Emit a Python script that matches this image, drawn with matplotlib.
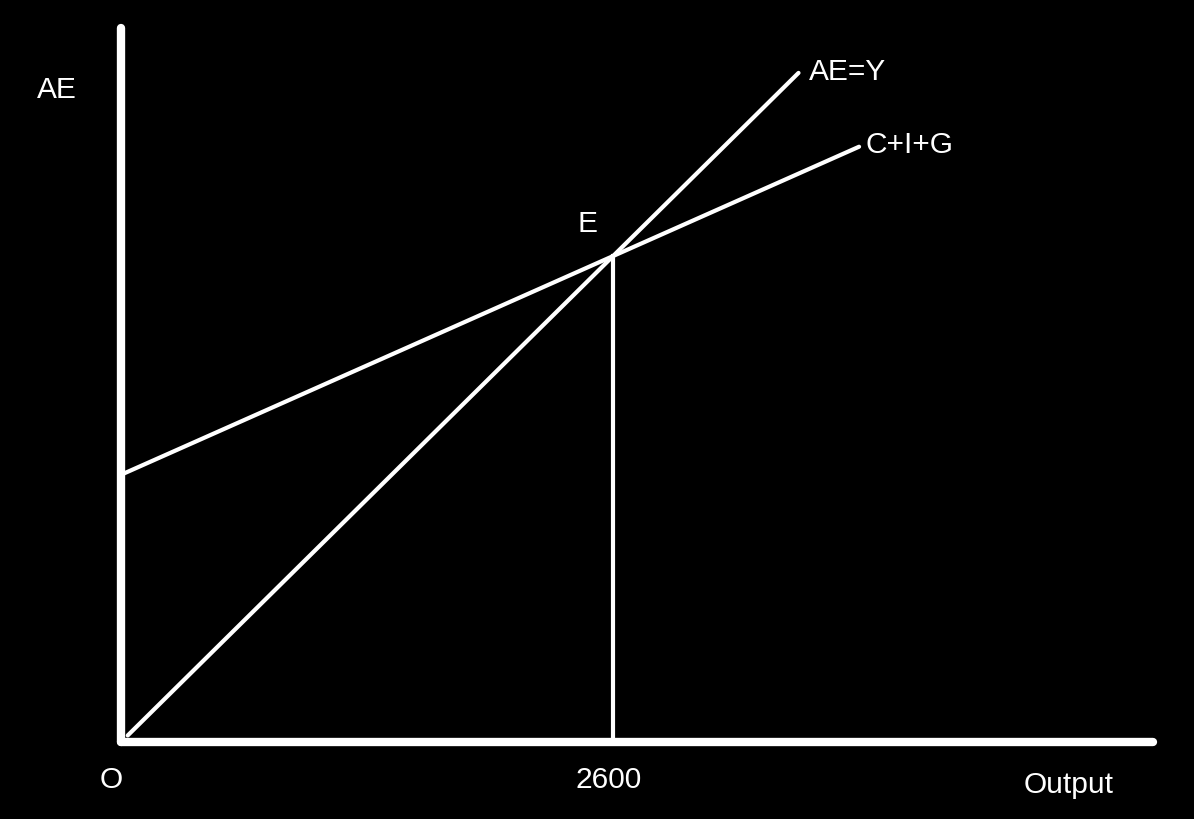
import matplotlib
matplotlib.use("Agg")
import matplotlib.pyplot as plt
import numpy as np

plt.rcParams['font.family'] = ['Liberation Sans', 'DejaVu Sans']

# Data
equilibrium_output = 2600
autonomous_spending = 1430
mpe = 0.45
aey_x = [35, 3580]
cig_x = [0, 3900]
axis_x_max = 5454
axis_y_max = 3820

fig = plt.figure(figsize=(11.94, 8.19), dpi=100, facecolor='black')
ax = fig.add_axes([0, 0, 1, 1])
ax.set_facecolor('black')
ax.set_xlim(-640, 5670)
ax.set_ylim(-412, 3970)
ax.axis('off')

lw_axis = 6
lw_line = 3.0

# axes
ax.plot([0, 0], [0, axis_y_max], color='white', lw=lw_axis, solid_capstyle='round')
ax.plot([0, axis_x_max], [0, 0], color='white', lw=lw_axis, solid_capstyle='round')

# AE = Y
ax.plot(aey_x, aey_x, color='white', lw=lw_line, solid_capstyle='round')
# C+I+G
cig_y = [autonomous_spending + mpe * x for x in cig_x]
ax.plot(cig_x, cig_y, color='white', lw=lw_line, solid_capstyle='round')
# vertical at equilibrium
ax.plot([equilibrium_output, equilibrium_output], [0, equilibrium_output],
        color='white', lw=lw_line)

fs = 21.5
ax.text(-338, 3488, 'AE', color='white', fontsize=fs, ha='center', va='center')
ax.text(3636, 3584, 'AE=Y', color='white', fontsize=fs, ha='left', va='center')
ax.text(3932, 3194, 'C+I+G', color='white', fontsize=fs, ha='left', va='center')
ax.text(2463, 2771, 'E', color='white', fontsize=fs, ha='center', va='center')
ax.text(-53, -203, 'O', color='white', fontsize=fs, ha='center', va='center')
ax.text(2575, -203, '2600', color='white', fontsize=fs, ha='center', va='center')
ax.text(5010, -230, 'Output', color='white', fontsize=fs, ha='center', va='center')

fig.savefig('out.png', dpi=100, facecolor='black')
